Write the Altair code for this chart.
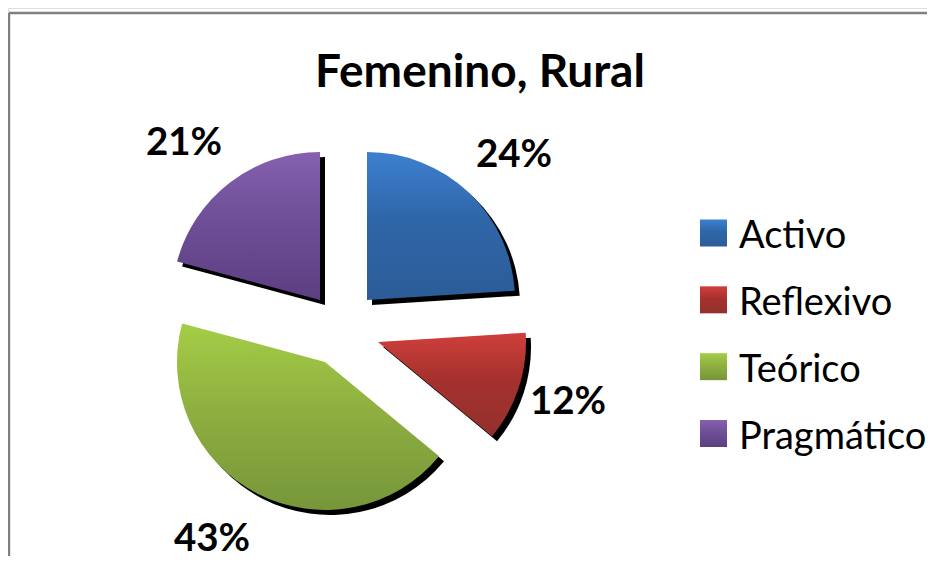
import altair as alt
import pandas as pd

title = "Femenino, Rural"
categories = ["Activo", "Reflexivo", "Teórico", "Pragmático"]
values = [24.0, 12.0, 43.2, 20.8]
labels = ["24%", "12%", "43%", "21%"]
stops = {
    "Activo": ["#3d80d0", "#2f66a8", "#2b5c98"],
    "Reflexivo": ["#d03f3b", "#a5312e", "#93302c"],
    "Teórico": ["#a4cd46", "#8fb040", "#76963a"],
    "Pragmático": ["#8560b0", "#6f4f98", "#5c3e82"],
}

ox, oy = 8, 8
W, H = 919, 548
R = 148
apex = {"Activo": (367, 300), "Reflexivo": (378, 342), "Teórico": (325, 362), "Pragmático": (320, 300)}
label_pos = {"Activo": (514, 155), "Reflexivo": (568, 402), "Teórico": (212, 539), "Pragmático": (184, 143)}
FONT = "Lato"

rows, acc = [], 0
for c, v, l in zip(categories, values, labels):
    rows.append({"cat": c, "start": acc, "end": acc + v, "label": l})
    acc += v
df = pd.DataFrame(rows)


def grad(colors):
    return alt.Gradient(
        gradient="linear", x1=0, x2=0, y1=0, y2=1,
        stops=[alt.GradientStop(color=k, offset=o) for k, o in zip(colors, [0, 0.45, 1])],
    )


theta_scale = alt.Scale(domain=[0, 100], range=[0, 6.28318530718])
layers = []

# frame
frame = pd.DataFrame({"a": [0]})
layers.append(alt.Chart(frame).mark_rule(color="#808080", strokeWidth=2.4).encode(
    x=alt.value(1), x2=alt.value(W), y=alt.value(13 - oy), y2=alt.value(13 - oy)))
layers.append(alt.Chart(frame).mark_rule(color="#808080", strokeWidth=2.4).encode(
    x=alt.value(9 - ox), x2=alt.value(9 - ox), y=alt.value(13 - oy), y2=alt.value(H)))

# shadows then slices
for c in categories:
    ax, ay = apex[c]
    sub = alt.Chart(df[df.cat == c])
    layers.append(sub.mark_arc(radius=R, fill="black").encode(
        theta=alt.Theta("start:Q", scale=theta_scale), theta2="end:Q",
        x=alt.value(ax - ox + 5), y=alt.value(ay - oy + 5)))
for c in categories:
    ax, ay = apex[c]
    sub = alt.Chart(df[df.cat == c])
    layers.append(sub.mark_arc(radius=R, fill=grad(stops[c])).encode(
        theta=alt.Theta("start:Q", scale=theta_scale), theta2="end:Q",
        x=alt.value(ax - ox), y=alt.value(ay - oy)))

# data labels
for c in categories:
    lx, ly = label_pos[c]
    layers.append(alt.Chart(df[df.cat == c]).mark_text(
        font=FONT, fontSize=38.5, fontWeight="bold", color="black", align="center", baseline="middle"
    ).encode(text="label:N", x=alt.value(lx - ox), y=alt.value(ly - oy)))

# legend
legend_y = alt.Y("cat:N", scale=alt.Scale(type="point", padding=0, domain=categories, range=[233 - oy, 433.5 - oy]), axis=None)
for c in categories:
    sub = alt.Chart(df[df.cat == c])
    layers.append(sub.mark_point(shape="square", filled=True, size=729, fill=grad(stops[c]), opacity=1, strokeWidth=0).encode(
        y=legend_y, x=alt.value(713.5 - ox)))
layers.append(alt.Chart(df).mark_text(font=FONT, fontSize=38, dy=4, color="black", align="left", baseline="middle").encode(
    y=legend_y, x=alt.value(739 - ox), text="cat:N"))

# title
layers.append(alt.Chart(frame).mark_text(font=FONT, fontSize=46, fontWeight="bold", color="black", align="center", baseline="middle").encode(
    text=alt.datum(title), x=alt.value(480 - ox), y=alt.value(73 - oy)))

chart = alt.layer(*layers).properties(
    width=W, height=H, padding=0, autosize=alt.AutoSizeParams(type="none"),
).configure_view(stroke=None).configure(background="white")

chart.save("out.html", embed_options={"renderer": "svg", "actions": False})
